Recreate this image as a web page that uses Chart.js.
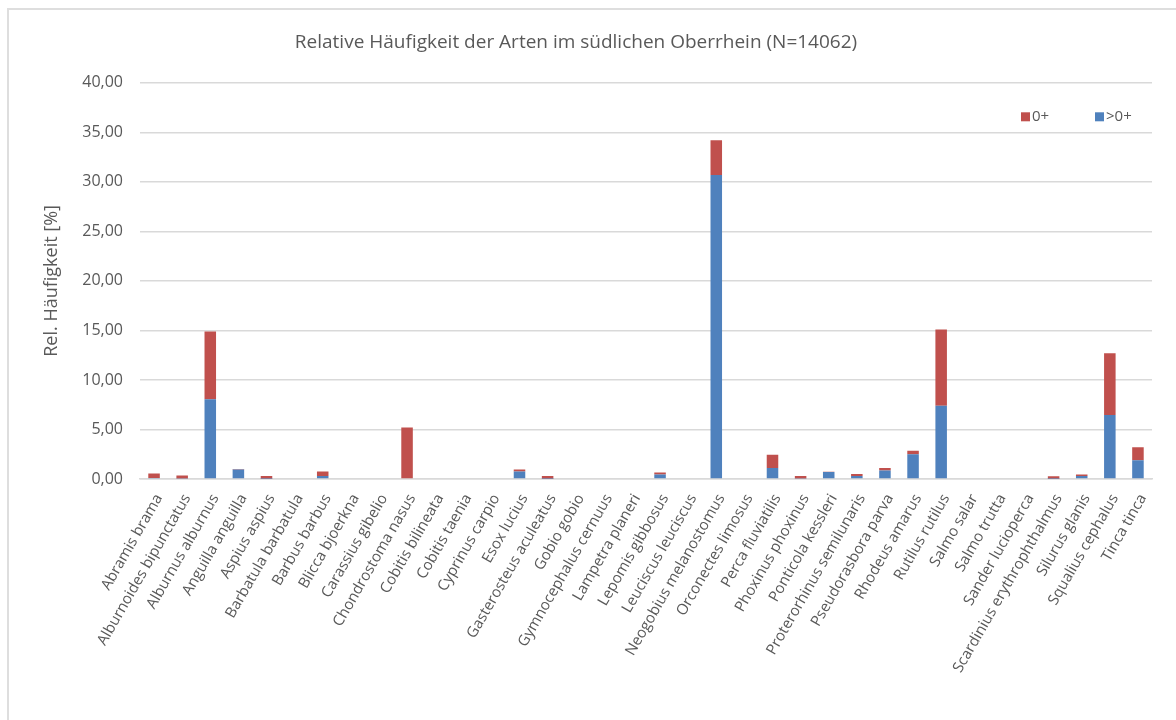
<!DOCTYPE html>
<html>
<head>
<meta charset="utf-8">
<script src="https://cdn.jsdelivr.net/npm/chart.js@4"></script>
<style>
  html, body { margin: 0; padding: 0; background: #fff; }
  #frame {
    position: absolute; left: 7px; top: 8px; width: 1200px; height: 740px;
    border: 2px solid #dedede; box-sizing: border-box;
  }
  #wrap { position: absolute; left: 0; top: 0; width: 1176px; height: 720px; }
</style>
</head>
<body>
<div id="frame"></div>
<div id="wrap"><canvas id="artenChart"></canvas></div>
<script>
const artenChart = document.getElementById("artenChart");

// species on the x axis
const arten = [
    "Abramis brama", "Alburnoides bipunctatus", "Alburnus alburnus", "Anguilla anguilla",
    "Aspius aspius", "Barbatula barbatula", "Barbus barbus", "Blicca bjoerkna",
    "Carassius gibelio", "Chondrostoma nasus", "Cobitis bilineata", "Cobitis taenia",
    "Cyprinus carpio", "Esox lucius", "Gasterosteus aculeatus", "Gobio gobio",
    "Gymnocephalus cernuus", "Lampetra planeri", "Lepomis gibbosus", "Leuciscus leuciscus",
    "Neogobius melanostomus", "Orconectes limosus", "Perca fluviatilis", "Phoxinus phoxinus",
    "Ponticola kessleri", "Proterorhinus semilunaris", "Pseudorasbora parva", "Rhodeus amarus",
    "Rutilus rutilus", "Salmo salar", "Salmo trutta", "Sander lucioperca",
    "Scardinius erythrophthalmus", "Silurus glanis", "Squalius cephalus", "Tinca tinca"
];

// older fish (>0+), bottom of each stack, in %
const aelter = [
    0.10, 0.05, 8.05, 0.95, 0.02, 0, 0.30, 0,
    0, 0, 0, 0, 0, 0.75, 0.02, 0,
    0, 0, 0.45, 0, 30.70, 0, 1.10, 0.05,
    0.70, 0.30, 0.85, 2.50, 7.40, 0, 0, 0,
    0.02, 0.30, 6.45, 1.90
];

// young of the year (0+), top of each stack, in %
const jung = [
    0.45, 0.30, 6.85, 0.05, 0.28, 0, 0.45, 0,
    0, 5.20, 0, 0, 0, 0.20, 0.28, 0,
    0, 0, 0.20, 0, 3.50, 0, 1.35, 0.25,
    0.02, 0.20, 0.25, 0.35, 7.70, 0, 0, 0,
    0.25, 0.15, 6.25, 1.30
];

const yTicks = [0, 5, 10, 15, 20, 25, 30, 35, 40];

const textColor = '#595959';
const gridColor = '#d9d9d9';
const rot = '#c0504d';
const blau = '#4f81bd';
const schrift = "'Open Sans', sans-serif";

// legend drawn as in the office original: "0+" then ">0+" at the top right
const eckLegende = {
    id: 'eckLegende',
    afterDraw(chart) {
        const {ctx, chartArea} = chart;
        const eintraege = [
            {text: '0+', color: rot, dx: 131},
            {text: '>0+', color: blau, dx: 57}
        ];
        const y = chartArea.top + 34;
        ctx.save();
        ctx.font = "15px " + schrift;
        ctx.textBaseline = 'middle';
        ctx.textAlign = 'left';
        eintraege.forEach(e => {
            const x = chartArea.right - e.dx;
            ctx.fillStyle = e.color;
            ctx.fillRect(x, y - 4.5, 9, 9);
            ctx.fillStyle = textColor;
            ctx.fillText(e.text, x + 11, y);
        });
        ctx.restore();
    }
};

const data = {
    labels: arten,
    datasets: [
        {
            label: '>0+',
            data: aelter,
            backgroundColor: blau,
            stack: 'a',
        },
        {
            label: '0+',
            data: jung,
            backgroundColor: rot,
            stack: 'a',
        }
    ]
};

const scales = {
    x: {
        stacked: true,
        afterFit(scale) {
            scale.height = 720 - 479;
        },
        ticks: {
            color: textColor,
            autoSkip: false,
            minRotation: 60,
            maxRotation: 60,
            padding: 12,
            labelOffset: 5,
            font: {family: schrift, size: 15}
        },
        grid: {
            display: false,
            drawTicks: false,
        },
        border: {
            color: gridColor,
            width: 1.5
        }
    },
    y: {
        stacked: true,
        min: 0,
        max: 40,
        afterFit(scale) {
            scale.width = 140;
        },
        afterBuildTicks(scale) {
            scale.ticks = yTicks.map(v => ({value: v}));
        },
        title: {
            display: true,
            text: 'Rel. Häufigkeit [%]',
            color: textColor,
            font: {family: schrift, size: 18},
            padding: {top: 41, bottom: 0}
        },
        ticks: {
            color: textColor,
            padding: 17,
            font: {family: schrift, size: 16},
            callback: v => v.toFixed(2).replace('.', ',')
        },
        grid: {
            color: gridColor,
            lineWidth: 1.5,
            drawTicks: false,
        },
        border: {
            display: false
        }
    }
};

new Chart(artenChart, {
    type: 'bar',
    data,
    plugins: [eckLegende],
    options: {
        responsive: true,
        maintainAspectRatio: false,
        animation: false,
        datasets: {
            bar: {
                categoryPercentage: 1.0,
                barPercentage: 0.41,
            }
        },
        layout: {
            padding: {top: 19, right: 24, bottom: 0, left: 0}
        },
        scales: scales,
        plugins: {
            legend: {display: false},
            tooltip: {enabled: false},
            title: {
                display: true,
                text: 'Relative Häufigkeit der Arten im südlichen Oberrhein (N=14062)',
                color: textColor,
                font: {family: schrift, size: 19, weight: 'normal'},
                padding: {top: 12, bottom: 29}
            }
        }
    }
});
</script>
</body>
</html>
